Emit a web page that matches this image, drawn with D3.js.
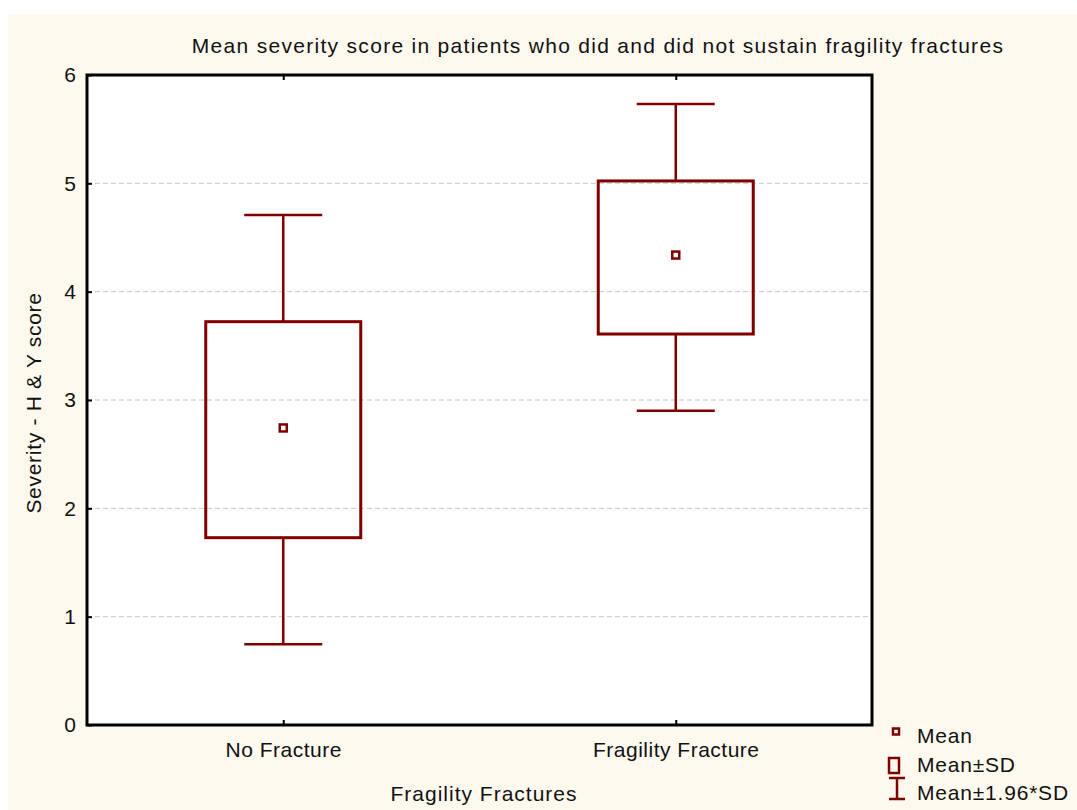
<!DOCTYPE html>
<html>
<head>
<meta charset="utf-8">
<script src="https://cdn.jsdelivr.net/npm/d3@7"></script>
<style>
  body { margin: 0; background: #fff; }
  svg text { font-family: "Liberation Sans", Arial, sans-serif; fill: #111; }
</style>
</head>
<body>
<div id="chart"></div>
<script>
// values
let groups = ["No Fracture", "Fragility Fracture"];
let means = [2.742, 4.338];
let sdLow = [1.729, 3.609];
let sdHigh = [3.723, 5.022];
let ciLow = [0.745, 2.901];
let ciHigh = [4.708, 5.732];
let yTicks = [0, 1, 2, 3, 4, 5, 6];
let legendLabels = ["Mean", "Mean±SD", "Mean±1.96*SD"];

let svgWidth = 1077;
let svgHeight = 810;
let margin = { top: 75, right: 205, bottom: 85, left: 87 };
let width = svgWidth - margin.left - margin.right;
let height = svgHeight - margin.top - margin.bottom;
let dark = "#800000";

let svg = d3.select("#chart")
  .append("svg")
  .attr("width", svgWidth)
  .attr("height", svgHeight);

// cream page background
svg.append("rect")
  .attr("x", 8).attr("y", 14)
  .attr("width", svgWidth - 8).attr("height", svgHeight - 14)
  .attr("fill", "#fdf9ef");

let chartGroup = svg.append("g")
  .attr("transform", `translate(${margin.left}, ${margin.top})`);

let x = d3.scalePoint().domain(groups).range([0, width]).padding(0.5);
let y = d3.scaleLinear().domain([0, 6]).range([height, 0]);

chartGroup.append("rect")
  .attr("width", width).attr("height", height)
  .attr("fill", "#fff");

// grid
chartGroup.append("g")
  .selectAll("line")
  .data(yTicks.filter(d => d > 0 && d < 6))
  .enter()
  .append("line")
  .attr("x1", 0).attr("x2", width)
  .attr("y1", d => y(d)).attr("y2", d => y(d))
  .attr("stroke", "#c8c8c8")
  .attr("stroke-dasharray", "5,3");

// axes, ticks pointing inward
let leftAxis = d3.axisLeft(y).tickValues(yTicks).tickFormat(d3.format("d")).tickSize(-5).tickPadding(11);
let gy = chartGroup.append("g").call(leftAxis);
gy.select(".domain").remove();
gy.selectAll("line").attr("stroke", "#000").attr("stroke-width", 2);
gy.selectAll("text").attr("font-size", 21).attr("font-family", null).attr("fill", "#111");

let bottomAxis = d3.axisBottom(x).tickSize(-5).tickPadding(17);
let gx = chartGroup.append("g").attr("transform", `translate(0, ${height})`).call(bottomAxis);
gx.select(".domain").remove();
gx.selectAll("line").attr("stroke", "#000").attr("stroke-width", 2);
gx.selectAll("text").attr("font-size", 21).attr("letter-spacing", 0.5)
  .attr("font-family", null).attr("fill", "#111");

let topAxis = d3.axisTop(x).tickSize(-5).tickFormat("");
let gt = chartGroup.append("g").call(topAxis);
gt.select(".domain").remove();
gt.selectAll("line").attr("stroke", "#000").attr("stroke-width", 2);

chartGroup.append("rect")
  .attr("width", width).attr("height", height)
  .attr("fill", "none").attr("stroke", "#000").attr("stroke-width", 3);

// boxes
let boxW = 155;
let capW = 78;
let boxes = chartGroup.append("g").selectAll("g")
  .data(groups)
  .enter()
  .append("g");

boxes.append("line")
  .attr("x1", d => x(d)).attr("x2", d => x(d))
  .attr("y1", (d, i) => y(ciHigh[i])).attr("y2", (d, i) => y(sdHigh[i]))
  .attr("stroke", dark).attr("stroke-width", 2.5);
boxes.append("line")
  .attr("x1", d => x(d)).attr("x2", d => x(d))
  .attr("y1", (d, i) => y(sdLow[i])).attr("y2", (d, i) => y(ciLow[i]))
  .attr("stroke", dark).attr("stroke-width", 2.5);
boxes.append("line")
  .attr("x1", d => x(d) - capW / 2).attr("x2", d => x(d) + capW / 2)
  .attr("y1", (d, i) => y(ciHigh[i])).attr("y2", (d, i) => y(ciHigh[i]))
  .attr("stroke", dark).attr("stroke-width", 2.5);
boxes.append("line")
  .attr("x1", d => x(d) - capW / 2).attr("x2", d => x(d) + capW / 2)
  .attr("y1", (d, i) => y(ciLow[i])).attr("y2", (d, i) => y(ciLow[i]))
  .attr("stroke", dark).attr("stroke-width", 2.5);
boxes.append("rect")
  .attr("x", d => x(d) - boxW / 2)
  .attr("y", (d, i) => y(sdHigh[i]))
  .attr("width", boxW)
  .attr("height", (d, i) => y(sdLow[i]) - y(sdHigh[i]))
  .attr("fill", "none").attr("stroke", dark).attr("stroke-width", 3);
boxes.append("rect")
  .attr("x", d => x(d) - 3.5)
  .attr("y", (d, i) => y(means[i]) - 3.5)
  .attr("width", 7).attr("height", 7)
  .attr("fill", "#fff").attr("stroke", dark).attr("stroke-width", 2.5);

// titles
svg.append("text")
  .attr("x", 598).attr("y", 53)
  .attr("text-anchor", "middle")
  .attr("font-size", 21).attr("letter-spacing", 1.3)
  .text("Mean severity score in patients who did and did not sustain fragility fractures");

svg.append("text")
  .attr("transform", "translate(41, 403) rotate(-90)")
  .attr("text-anchor", "middle")
  .attr("font-size", 21).attr("letter-spacing", 0.7)
  .text("Severity - H & Y score");

svg.append("text")
  .attr("x", 484).attr("y", 801)
  .attr("text-anchor", "middle")
  .attr("font-size", 21).attr("letter-spacing", 1)
  .text("Fragility Fractures");

// legend
let legend = svg.append("g");
legend.append("rect").attr("x", 893).attr("y", 728.5).attr("width", 6).attr("height", 6)
  .attr("fill", "#fff").attr("stroke", dark).attr("stroke-width", 2.5);
legend.append("rect").attr("x", 889).attr("y", 758).attr("width", 10).attr("height", 15)
  .attr("fill", "none").attr("stroke", dark).attr("stroke-width", 2.5);
legend.append("line").attr("x1", 897).attr("x2", 897).attr("y1", 778).attr("y2", 799)
  .attr("stroke", dark).attr("stroke-width", 2.5);
legend.append("line").attr("x1", 889).attr("x2", 905).attr("y1", 778).attr("y2", 778)
  .attr("stroke", dark).attr("stroke-width", 2.5);
legend.append("line").attr("x1", 889).attr("x2", 905).attr("y1", 799).attr("y2", 799)
  .attr("stroke", dark).attr("stroke-width", 2.5);
legend.selectAll("text.lab")
  .data(legendLabels)
  .enter()
  .append("text")
  .attr("class", "lab")
  .attr("x", 917)
  .attr("y", (d, i) => 743 + i * 28.5)
  .attr("font-size", 21).attr("letter-spacing", 0.8)
  .text(d => d);
</script>
</body>
</html>
